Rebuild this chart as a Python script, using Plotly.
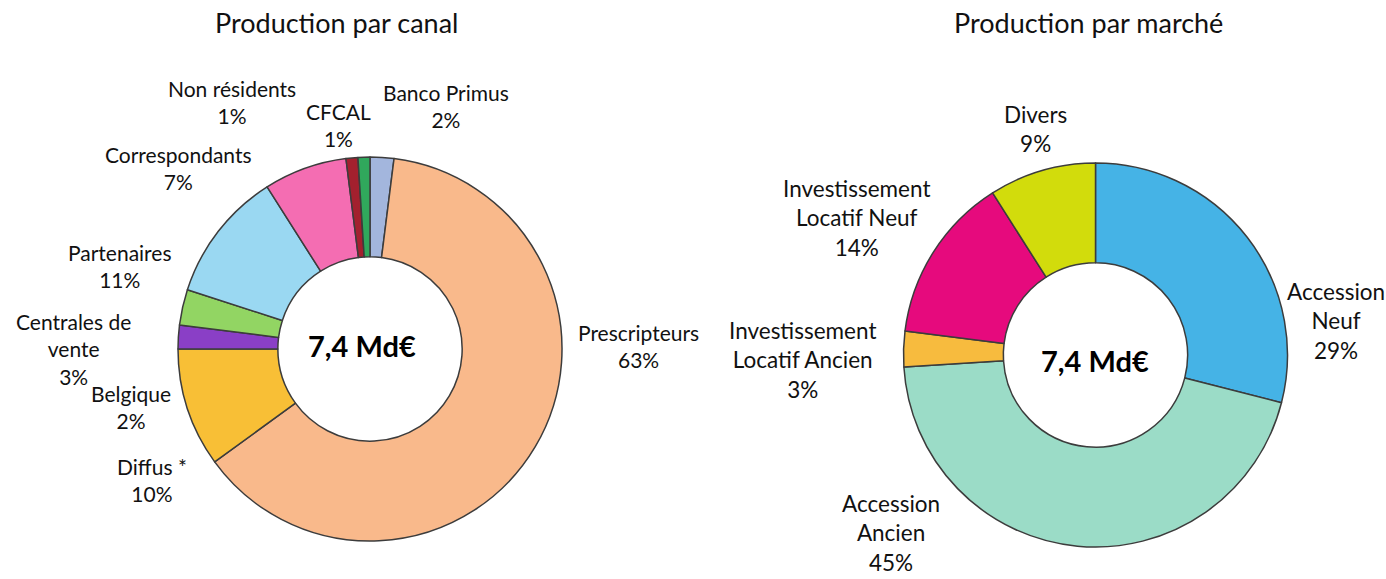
import plotly.graph_objects as go

W, H = 1386, 579

# ---- data ----
canal_labels = ["Banco Primus", "Prescripteurs", "Diffus *", "Belgique", "Centrales de vente",
                "Partenaires", "Correspondants", "Non résidents", "CFCAL"]
canal_values = [2, 63, 10, 2, 3, 11, 7, 1, 1]
canal_text = ["Banco Primus<br>2%", "Prescripteurs<br>63%", "Diffus *<br>10%", "Belgique<br>2%",
              "Centrales de<br>vente<br>3%", "Partenaires<br>11%", "Correspondants<br>7%",
              "Non résidents<br>1%", "CFCAL<br>1%"]

marche_labels = ["Accession Neuf", "Accession Ancien", "Investissement Locatif Ancien",
                 "Investissement Locatif Neuf", "Divers"]
marche_values = [29, 45, 3, 14, 9]
marche_text = ["Accession<br>Neuf<br>29%", "Accession<br>Ancien<br>45%",
               "Investissement<br>Locatif Ancien<br>3%", "Investissement<br>Locatif Neuf<br>14%",
               "Divers<br>9%"]

center_text = "7,4 Md€"
titles = ["Production par canal", "Production par marché"]

# ---- styles / layout positions (pixels) ----
canal_colors = ["#a3b6dd", "#f9b98b", "#f8bf36", "#8a3fc6", "#92d563",
                "#9ad8f2", "#f46db2", "#a3202e", "#30a85c"]
marche_colors = ["#45b3e6", "#9bdcc7", "#f7bb3e", "#e60a7d", "#d2dc0c"]

canal_label_pos = [(446, 106), (638, 346), (152, 480), (131, 407), (73, 349),
                   (120, 266), (178, 168), (232, 102), (338, 125)]
marche_label_pos = [(1336, 321), (891, 533), (802, 360), (856, 218), (1035, 129)]

def px(x):
    return x / W

def py(y):
    return 1 - y / H

fig = go.Figure()
line = dict(color="#3c3c3c", width=1.5)

fig.add_trace(go.Pie(
    labels=canal_labels, values=canal_values, hole=0.48, sort=False,
    direction="clockwise", rotation=0,
    marker=dict(colors=canal_colors, line=line),
    textinfo="none", hoverinfo="label+percent", showlegend=False,
    domain=dict(x=[px(178), px(562)], y=[py(541), py(157)]),
))
fig.add_trace(go.Pie(
    labels=marche_labels, values=marche_values, hole=0.48, sort=False,
    direction="clockwise", rotation=0,
    marker=dict(colors=marche_colors, line=line),
    textinfo="none", hoverinfo="label+percent", showlegend=False,
    domain=dict(x=[px(903), px(1288)], y=[py(547), py(163)]),
))

font_family = "Lato, 'Open Sans', sans-serif"
annotations = []
for t, (x, y) in zip(canal_text, canal_label_pos):
    annotations.append(dict(text=t, x=px(x), y=py(y), xref="paper", yref="paper",
                            showarrow=False, xanchor="center", yanchor="middle",
                            font=dict(family=font_family, size=21, color="#111111")))
for t, (x, y) in zip(marche_text, marche_label_pos):
    annotations.append(dict(text=t, x=px(x), y=py(y), xref="paper", yref="paper",
                            showarrow=False, xanchor="center", yanchor="middle",
                            font=dict(family=font_family, size=22.5, color="#111111")))
for (x, y) in [(362, 345), (1095, 360)]:
    annotations.append(dict(text="<b>" + center_text + "</b>", x=px(x), y=py(y),
                            xref="paper", yref="paper", showarrow=False,
                            xanchor="center", yanchor="middle",
                            font=dict(family=font_family, size=29, color="#000000")))
for t, x in zip(titles, [336, 1088]):
    annotations.append(dict(text=t, x=px(x), y=py(23), xref="paper", yref="paper",
                            showarrow=False, xanchor="center", yanchor="middle",
                            font=dict(family=font_family, size=27, color="#111111")))

fig.update_layout(
    width=W, height=H,
    margin=dict(l=0, r=0, t=0, b=0),
    paper_bgcolor="white", plot_bgcolor="white",
    annotations=annotations,
)

fig.write_html("out.html", config={"displayModeBar": False},
               post_script="document.body.style.margin='0';")
